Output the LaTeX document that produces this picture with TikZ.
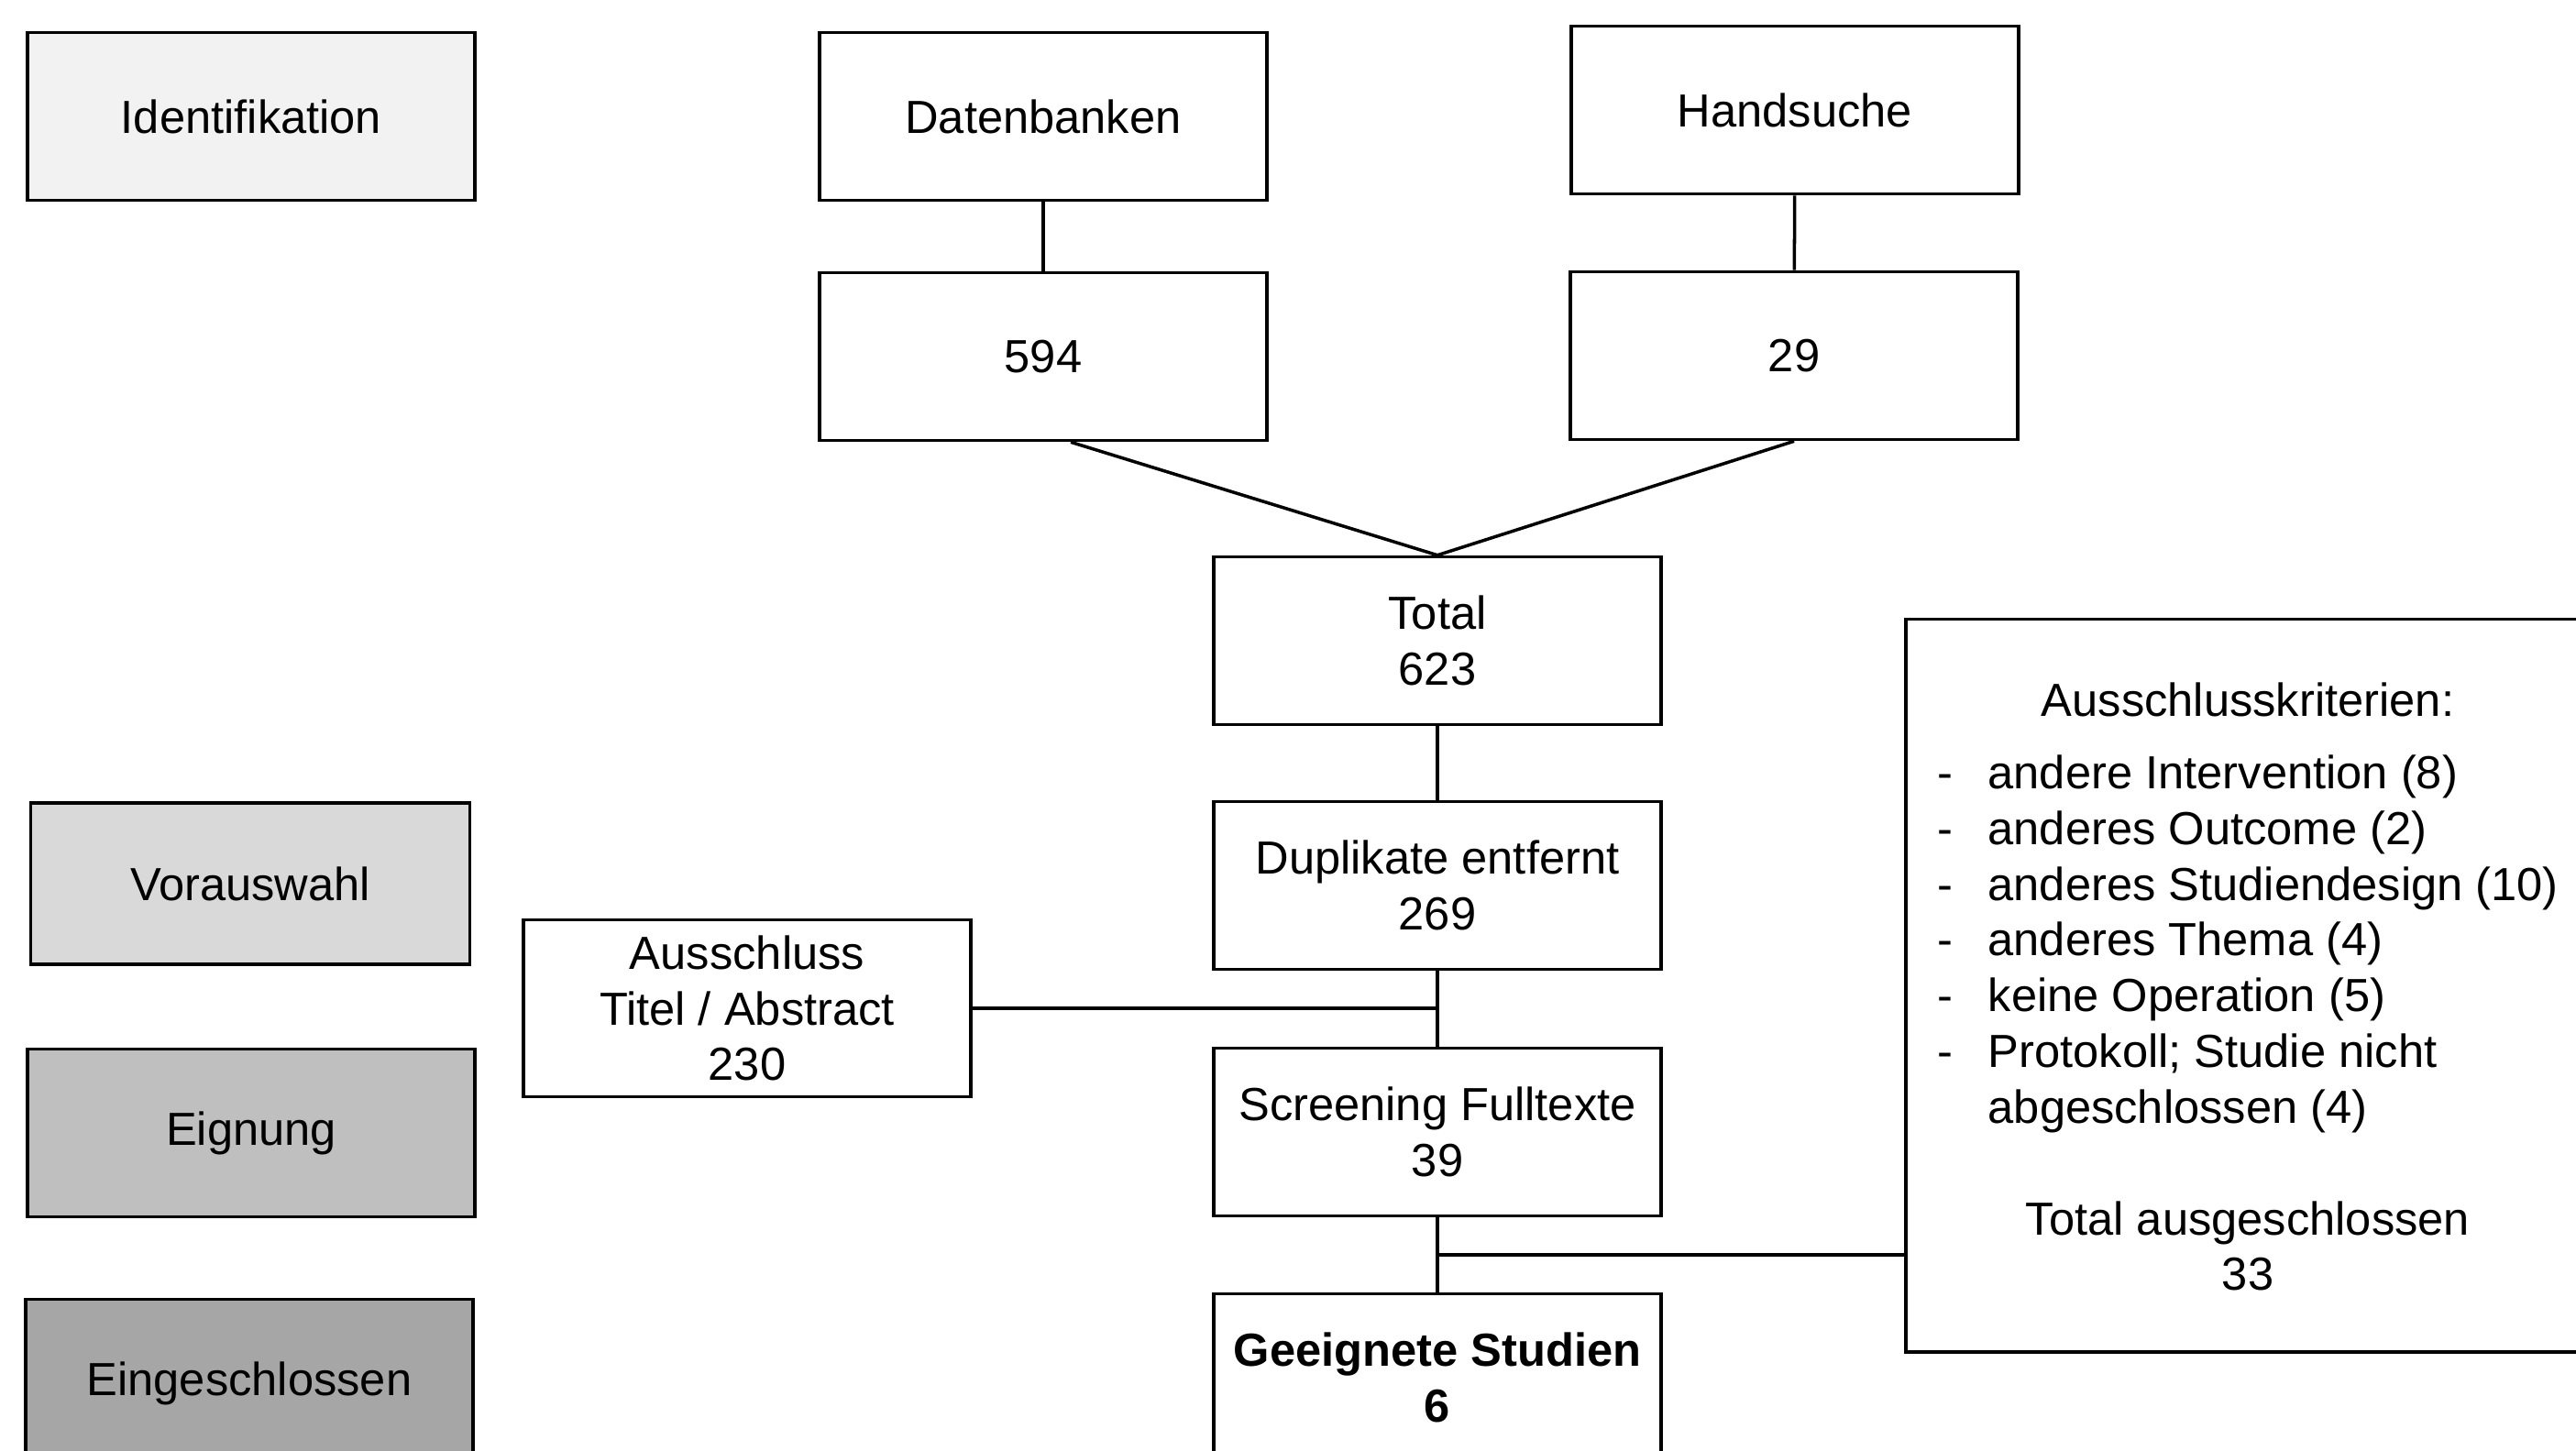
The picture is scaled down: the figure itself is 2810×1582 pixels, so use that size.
\documentclass[tikz,border=0pt]{standalone}
\usepackage{fontspec}
\setmainfont{Liberation Sans}
\usetikzlibrary{positioning,calc}

\begin{document}
\begin{tikzpicture}[
  x=0.01cm,y=-0.01cm,
  box/.style={draw,line width=1pt,align=center,inner sep=2pt,
    minimum width=4.88cm,minimum height=1.83cm,
    font=\fontsize{14.4}{17.3}\selectfont},
  phase/.style={box,fill=#1},
  link/.style={line width=1pt}
]
\useasboundingbox (0,0) rectangle (2810,1582);
% phases on the left
\node[phase=black!5] (ident) at (274,127) {Identifikation};
\node[phase=black!15,minimum width=4.79cm,minimum height=1.76cm] (vor) at (273,964) {Vorauswahl};
\node[phase=black!25] (eign) at (274,1236) {Eignung};
\node[phase=black!35] (einge) at (272,1509) {Eingeschlossen};
% sources
\node[box] (datenb) at (1138,127) {Datenbanken};
\node[box] (hand) at (1958,120) {Handsuche};
\node[box] (n594) at (1138,389) {594};
\node[box] (n29) at (1957,388) {29};
% main flow
\node[box] (total) at (1568,699) {Total\\623};
\node[box] (dupl) at (1568,966) {Duplikate entfernt\\269};
\node[box] (screen) at (1568,1235) {Screening Fulltexte\\39};
\node[box,font=\fontsize{14.4}{17.3}\selectfont\bfseries] (geeig) at (1568,1503)
  {Geeignete Studien\\6};
\node[box,minimum height=1.93cm] (aus) at (815,1100)
  {Ausschluss\\Titel / Abstract\\230};
\node[box,minimum width=7.46cm,minimum height=7.99cm] (crit) at (2452,1075)
  {\begin{tabular}{@{}l@{\hspace{11pt}}l@{}}
   \multicolumn{2}{c}{\rule{0pt}{16.5pt}Ausschlusskriterien:}\\[5pt]
   - & andere Intervention (8)\\
   - & anderes Outcome (2)\\
   - & anderes Studiendesign (10)\\
   - & anderes Thema (4)\\
   - & keine Operation (5)\\
   - & Protokoll; Studie nicht\\
     & abgeschlossen (4)\\
   \\
   \multicolumn{2}{c}{Total ausgeschlossen}\\
   \multicolumn{2}{c}{33}
   \end{tabular}};
% connectors
\draw[link] (datenb) -- (n594);
\draw[link] (hand) -- (n29);
\draw[link] ([xshift=3mm]n594.south) -- (total.north);
\draw[link] (n29.south) -- (total.north);
\draw[link] (total) -- (dupl);
\draw[link] (dupl) -- (screen);
\draw[link] (aus.east) -- (aus.east -| dupl.south);
\draw[link] (screen) -- (geeig);
\coordinate (j2) at ($(screen.south)!0.5!(geeig.north)$);
\draw[link] (j2) -- (j2 -| crit.west);
\end{tikzpicture}
\end{document}
